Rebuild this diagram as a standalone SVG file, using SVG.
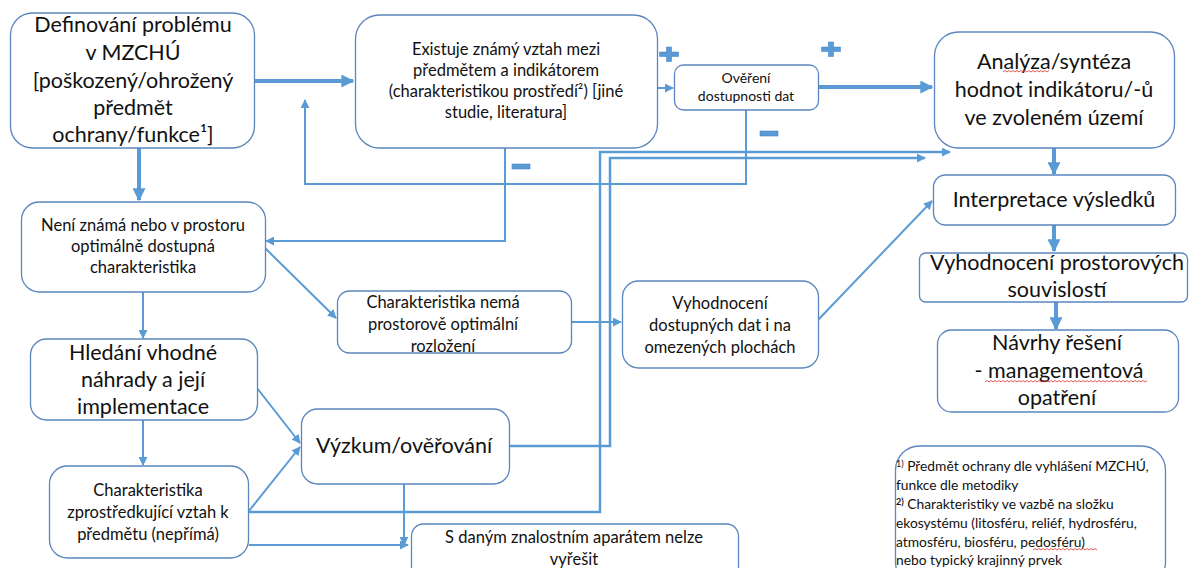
<svg xmlns="http://www.w3.org/2000/svg" width="1189" height="568" viewBox="0 0 1189 568">
<defs>
<style>
.box{fill:#fff;stroke:#5b86bd;stroke-width:1.3}
.t{font-family:Lato,"Liberation Sans",sans-serif;fill:#111;text-anchor:middle}
.l{font-size:21.5px}
.m{font-size:16.5px}
.s{font-size:14px}
.n{font-size:13.8px}
.c{fill:none;stroke:#5b9bd5;stroke-width:2}
.k{stroke-width:4}
.d{stroke-width:2.5}
.sign{fill:#5b9bd5;stroke:#4a86c5;stroke-width:0.6}
.sp{fill:none;stroke:#e03030;stroke-width:0.8}
</style>
<marker id="a" viewBox="0 0 10 10" refX="9" refY="5" markerWidth="9" markerHeight="9" markerUnits="userSpaceOnUse" orient="auto"><path d="M0,0 L10,5 L0,10 z" fill="#5b9bd5"/></marker>
<marker id="b" viewBox="0 0 10 10" refX="9" refY="5" markerWidth="13" markerHeight="13" markerUnits="userSpaceOnUse" orient="auto"><path d="M0,0 L10,5 L0,10 z" fill="#5b9bd5"/></marker>
</defs>
<rect width="1189" height="568" fill="#fff"/>

<g id="connectors">
<path class="c k" d="M255,81 H353" marker-end="url(#b)"/>
<path class="c" stroke-width="3" d="M657,88 H673" marker-end="url(#a)"/>
<path class="c k" d="M818,87 H932" marker-end="url(#b)"/>
<path class="c k" d="M1054,148 V174" marker-end="url(#b)"/>
<path class="c k" d="M1054,225 V251" marker-end="url(#b)"/>
<path class="c k" d="M1056,302 V329" marker-end="url(#b)"/>
<path class="c k" d="M139,148 V200" marker-end="url(#b)"/>
<path class="c" d="M505,148 V241 H266" marker-end="url(#a)"/>
<path class="c" d="M746,110 V184 H305 V100" marker-end="url(#a)"/>
<path class="c" d="M265,248 L336,318" marker-end="url(#a)"/>
<path class="c" d="M143,292 V338" marker-end="url(#a)"/>
<path class="c" d="M572,322 H621" marker-end="url(#a)"/>
<path class="c" d="M818,320 L932,201" marker-end="url(#a)"/>
<path class="c" d="M143,420 V465" marker-end="url(#a)"/>
<path class="c" d="M257,388 L300,443" marker-end="url(#a)"/>
<path class="c" d="M249,511 L300,447" marker-end="url(#a)"/>
<path class="c d" d="M249,512 H600 V152 H950" marker-end="url(#a)"/>
<path class="c d" d="M509,446 H610 V158 H925" marker-end="url(#a)"/>
<path class="c" d="M249,545 H408" marker-end="url(#a)"/>
<path class="c" d="M404,484 V545" marker-end="url(#a)"/>
</g>

<g id="signs">
<path class="sign" d="M666.5,47 h5 v5 h7 v4.5 h-7 v5 h-5 v-5 h-7 v-4.5 h7 z"/>
<path class="sign" d="M828.5,42 h5 v5 h7 v4.5 h-7 v5 h-5 v-5 h-7 v-4.5 h7 z"/>
<rect class="sign" x="512" y="164" width="18" height="5"/>
<rect class="sign" x="760" y="131" width="18" height="5"/>
</g>

<g id="n1">
<rect class="box" x="10.5" y="13" width="244" height="135" rx="22"/>
<text class="t l"><tspan x="133" y="32">Definování problému</tspan><tspan x="133" y="60">v MZCHÚ</tspan><tspan x="133" y="88">[poškozený/ohrožený</tspan><tspan x="133" y="115">předmět</tspan><tspan x="133" y="142">ochrany/funkce¹]</tspan></text>
</g>

<g id="n2">
<rect class="box" x="355.5" y="15" width="302" height="133" rx="24"/>
<text class="t m"><tspan x="506" y="55">Existuje známý vztah mezi</tspan><tspan x="506" y="76">předmětem a indikátorem</tspan><tspan x="506" y="97">(charakteristikou prostředí²) [jiné</tspan><tspan x="506" y="118">studie, literatura]</tspan></text>
</g>

<g id="n3">
<rect class="box" x="674.5" y="65" width="144" height="45" rx="9"/>
<text class="t s"><tspan x="746" y="83">Ověření</tspan><tspan x="746" y="101">dostupnosti dat</tspan></text>
</g>

<g id="n4">
<rect class="box" x="934.5" y="32" width="240" height="116" rx="24"/>
<text class="t l"><tspan x="1054" y="69">Analýza/syntéza</tspan><tspan x="1054" y="97">hodnot indikátoru/-ů</tspan><tspan x="1054" y="125">ve zvoleném území</tspan></text>
<path class="sp" d="M1003,72 l2,-1.5 l2,1.5 l2,-1.5 l2,1.5 l2,-1.5 l2,1.5 l2,-1.5 l2,1.5 l2,-1.5 l2,1.5 l2,-1.5 l2,1.5 l2,-1.5 l2,1.5 l2,-1.5 l2,1.5 l2,-1.5 l2,1.5 l2,-1.5 l2,1.5 l2,-1.5 l2,1.5 l2,-1.5"/>
</g>

<g id="n5">
<rect class="box" x="933.5" y="175" width="242" height="50" rx="12"/>
<text class="t l" x="1054" y="207">Interpretace výsledků</text>
</g>

<g id="n6">
<rect class="box" x="919.5" y="253" width="268" height="49" rx="6"/>
<text class="t l"><tspan x="1057" y="270">Vyhodnocení prostorových</tspan><tspan x="1057" y="297">souvislostí</tspan></text>
</g>

<g id="n7">
<rect class="box" x="937.5" y="330" width="241" height="82" rx="14"/>
<text class="t l"><tspan x="1057" y="350">Návrhy řešení</tspan><tspan x="1059" y="378">- managementová</tspan><tspan x="1057" y="405">opatření</tspan></text>
<path class="sp" d="M985,382 l2,-1.5 l2,1.5 l2,-1.5 l2,1.5 l2,-1.5 l2,1.5 l2,-1.5 l2,1.5 l2,-1.5 l2,1.5 l2,-1.5 l2,1.5 l2,-1.5 l2,1.5 l2,-1.5 l2,1.5 l2,-1.5 l2,1.5 l2,-1.5 l2,1.5 l2,-1.5 l2,1.5 l2,-1.5 l2,1.5 l2,-1.5 l2,1.5 l2,-1.5 l2,1.5 l2,-1.5 l2,1.5 l2,-1.5 l2,1.5 l2,-1.5 l2,1.5 l2,-1.5 l2,1.5 l2,-1.5 l2,1.5 l2,-1.5 l2,1.5 l2,-1.5 l2,1.5 l2,-1.5 l2,1.5 l2,-1.5 l2,1.5 l2,-1.5 l2,1.5 l2,-1.5 l2,1.5 l2,-1.5 l2,1.5 l2,-1.5 l2,1.5 l2,-1.5 l2,1.5 l2,-1.5 l2,1.5 l2,-1.5 l2,1.5 l2,-1.5 l2,1.5 l2,-1.5 l2,1.5 l2,-1.5 l2,1.5 l2,-1.5 l2,1.5 l2,-1.5 l2,1.5 l2,-1.5 l2,1.5 l2,-1.5 l2,1.5 l2,-1.5 l2,1.5 l2,-1.5 l2,1.5 l2,-1.5 l2,1.5 l2,-1.5"/>
</g>

<g id="n8">
<rect class="box" x="21.5" y="202" width="244" height="90" rx="18"/>
<text class="t m"><tspan x="143" y="231">Není známá nebo v prostoru</tspan><tspan x="143" y="252">optimálně dostupná</tspan><tspan x="143" y="273">charakteristika</tspan></text>
</g>

<g id="n9">
<rect class="box" x="337.5" y="291" width="234" height="62" rx="12"/>
<text class="t m"><tspan x="443" y="308">Charakteristika nemá</tspan><tspan x="443" y="330">prostorově optimální</tspan><tspan x="443" y="352">rozložení</tspan></text>
</g>

<g id="n10">
<rect class="box" x="622.5" y="281" width="196" height="87" rx="16"/>
<text class="t m"><tspan x="720" y="309">Vyhodnocení</tspan><tspan x="720" y="331">dostupných dat i na</tspan><tspan x="720" y="353">omezených plochách</tspan></text>
</g>

<g id="n11">
<rect class="box" x="30.5" y="339" width="227" height="81" rx="16"/>
<text class="t l"><tspan x="143" y="360">Hledání vhodné</tspan><tspan x="143" y="387">náhrady a její</tspan><tspan x="143" y="414">implementace</tspan></text>
</g>

<g id="n12">
<rect class="box" x="301.5" y="409" width="208" height="75" rx="16"/>
<text class="t l" x="404" y="453">Výzkum/ověřování</text>
</g>

<g id="n13">
<rect class="box" x="49.5" y="466" width="199" height="92" rx="18"/>
<text class="t m"><tspan x="148" y="496">Charakteristika</tspan><tspan x="148" y="518">zprostředkující vztah k</tspan><tspan x="148" y="540">předmětu (nepřímá)</tspan></text>
</g>

<g id="n14">
<rect class="box" x="411.5" y="524" width="327" height="60" rx="12"/>
<text class="t m"><tspan x="574" y="543">S daným znalostním aparátem nelze</tspan><tspan x="574" y="565">vyřešit</tspan></text>
</g>

<g id="notes">
<rect class="box" x="895.5" y="446" width="270" height="140" rx="24"/>
<text class="t n" style="text-anchor:start"><tspan x="896" y="471"><tspan font-size="9" dy="-4">1)</tspan><tspan dy="4"> Předmět ochrany dle vyhlášení MZCHÚ,</tspan></tspan><tspan x="896" y="490">funkce dle metodiky</tspan><tspan x="896" y="509"><tspan font-size="9" font-weight="bold" dy="-4">2)</tspan><tspan dy="4"> Charakteristiky ve vazbě na složku</tspan></tspan><tspan x="896" y="528">ekosystému  (litosféru, reliéf, hydrosféru,</tspan><tspan x="896" y="547">atmosféru, biosféru, pedosféru)</tspan><tspan x="896" y="565">nebo typický krajinný prvek</tspan></text>
<path class="sp" d="M1033,550 l2,-1.5 l2,1.5 l2,-1.5 l2,1.5 l2,-1.5 l2,1.5 l2,-1.5 l2,1.5 l2,-1.5 l2,1.5 l2,-1.5 l2,1.5 l2,-1.5 l2,1.5 l2,-1.5 l2,1.5 l2,-1.5 l2,1.5 l2,-1.5 l2,1.5 l2,-1.5 l2,1.5 l2,-1.5 l2,1.5 l2,-1.5 l2,1.5 l2,-1.5 l2,1.5 l2,-1.5 l2,1.5 l2,-1.5 l2,1.5"/>
</g>
</svg>
